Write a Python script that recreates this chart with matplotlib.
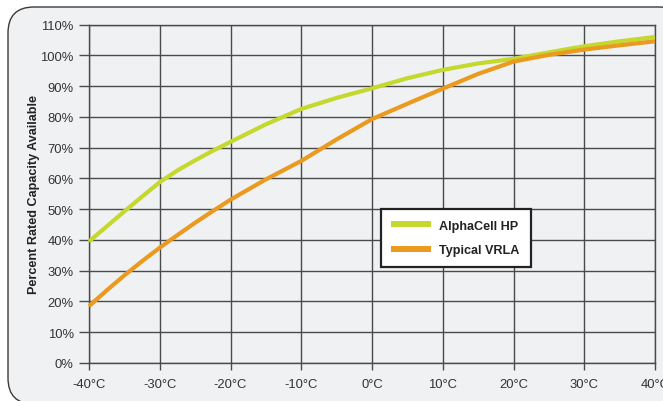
import matplotlib
matplotlib.use("Agg")
import matplotlib.pyplot as plt
from matplotlib.patches import FancyBboxPatch
from matplotlib.transforms import IdentityTransform

plt.rcParams['font.family'] = ['Liberation Sans', 'DejaVu Sans']

temps = [-40, -37.5, -35, -32.5, -30, -27.5, -25, -22.5, -20, -15, -10, -5, 0, 5, 10, 15, 20, 25, 30, 35, 40]
alphacell = [39.5, 44.4, 49.3, 54.1, 58.8, 62.6, 65.9, 69.0, 71.9, 77.6, 82.6, 86.2, 89.3, 92.6, 95.3, 97.4, 98.9, 101.0, 103.0, 104.6, 106.0]
vrla = [18.5, 23.6, 28.5, 33.1, 37.5, 41.6, 45.6, 49.4, 53.1, 59.7, 65.7, 72.7, 79.3, 84.3, 89.2, 94.0, 98.0, 100.2, 101.9, 103.3, 104.6]

xticks = [-40, -30, -20, -10, 0, 10, 20, 30, 40]
xticklabels = ['-40°C', '-30°C', '-20°C', '-10°C', '0°C', '10°C', '20°C', '30°C', '40°C']
yticks = list(range(0, 111, 10))
yticklabels = [f'{v}%' for v in yticks]

series_names = ['AlphaCell HP', 'Typical VRLA']
series_colors = ['#c4d82e', '#ea9a1e']

W, H = 663, 402
fig = plt.figure(figsize=(W / 100, H / 100), dpi=100)
fig.patch.set_facecolor('white')

# rounded panel background (pixel coordinates, origin bottom-left)
panel = FancyBboxPatch((8, H - 405), 685 - 8, 405 - 8,
                       boxstyle="round,pad=0,rounding_size=26",
                       transform=IdentityTransform(), facecolor='#f0f1f3',
                       edgecolor='#3a3a3a', linewidth=1.0, zorder=-5)
fig.patches.append(panel)

ax = fig.add_axes([89 / W, 1 - 364 / H, (655 - 89) / W, (364 - 25.7) / H])
ax.set_zorder(2)
ax.set_facecolor('#f0f1f3')
ax.set_xlim(-40, 40)
ax.set_ylim(0, 110)

ax.set_xticks(xticks)
ax.set_xticklabels(xticklabels)
ax.set_yticks(yticks)
ax.set_yticklabels(yticklabels)
ax.grid(True, color='#4a4a4a', linewidth=1.0)
ax.set_axisbelow(True)
for s in ax.spines.values():
    s.set_color('#4a4a4a')
    s.set_linewidth(1.0)
ax.tick_params(axis='both', colors='#4a4a4a', width=1.0,
               labelsize=9.4, labelcolor='#333333')
ax.tick_params(axis='x', length=5, pad=6)
ax.tick_params(axis='y', length=7, pad=4)

ax.plot(temps, alphacell, color=series_colors[0], linewidth=3.0,
        label=series_names[0], solid_capstyle='butt', clip_on=False, zorder=3)
ax.plot(temps, vrla, color=series_colors[1], linewidth=3.0,
        label=series_names[1], solid_capstyle='butt', clip_on=False, zorder=3)

ax.set_ylabel('Percent Rated Capacity Available', fontsize=9.1,
              fontweight='bold', color='#222222', labelpad=0)

leg = ax.legend(loc='upper left', bbox_to_anchor=((380.7 - 89) / 566, (364 - 210) / 338.3),
                prop={'weight': 'bold', 'size': 9.1}, frameon=True, fancybox=False,
                framealpha=1, edgecolor='#222222', facecolor='white',
                handlelength=3.1, handletextpad=0.7, labelspacing=1.0,
                borderpad=0.85, borderaxespad=0)
leg.get_frame().set_linewidth(1.6)
for line in leg.get_lines():
    line.set_linewidth(4.3)
for t in leg.get_texts():
    t.set_color('#222222')

fig.savefig('out.png', dpi=100, facecolor=fig.get_facecolor())
